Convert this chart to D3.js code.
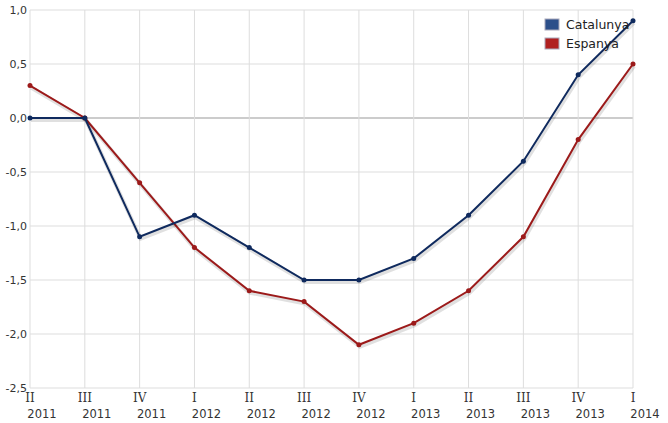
<!DOCTYPE html>
<html><head><meta charset="utf-8">
<script src="https://cdn.jsdelivr.net/npm/d3@7"></script>
<style>body{margin:0;background:#fff}</style>
</head><body><svg id="chart" width="668" height="423"></svg>
<script>
var quarters = ["II", "III", "IV", "I", "II", "III", "IV", "I", "II", "III", "IV", "I"];
var years = ["2011", "2011", "2011", "2012", "2012", "2012", "2012", "2013", "2013", "2013", "2013", "2014"];
var catalunya = [0, 0, -1.1, -0.9, -1.2, -1.5, -1.5, -1.3, -0.9, -0.4, 0.4, 0.9];
var espanya = [0.3, 0, -0.6, -1.2, -1.6, -1.7, -2.1, -1.9, -1.6, -1.1, -0.2, 0.5];
var yTicks = [1, 0.5, 0, -0.5, -1, -1.5, -2, -2.5];

var svg = d3.select("#chart");
var x = d3.scaleLinear().domain([0, 11]).range([30, 633]);
var y = d3.scaleLinear().domain([-2.5, 1]).range([388, 10]);
var fmt = function (d) { return d3.format(".1f")(d).replace(".", ",").replace("−", "-"); };

var g = svg.append("g");
g.selectAll(".hg").data(yTicks).enter().append("line")
    .attr("x1", 30).attr("x2", 633)
    .attr("y1", function (d) { return y(d); }).attr("y2", function (d) { return y(d); })
    .attr("stroke", function (d) { return d === 0 ? "#999" : "#ddd"; });
g.selectAll(".vg").data(d3.range(12)).enter().append("line")
    .attr("x1", function (d) { return x(d); }).attr("x2", function (d) { return x(d); })
    .attr("y1", 10).attr("y2", 388).attr("stroke", "#ddd");

g.selectAll(".yl").data(yTicks).enter().append("text")
    .attr("x", 27).attr("y", function (d) { return y(d) + 4; })
    .attr("text-anchor", "end").style("font", "11px 'DejaVu Sans'").attr("fill", "#333")
    .text(fmt);

g.selectAll(".ql").data(quarters).enter().append("text")
    .attr("x", function (d, i) { return x(i); }).attr("y", 402)
    .attr("text-anchor", "middle").style("font", "12px 'DejaVu Serif'").attr("fill", "#333")
    .text(function (d) { return d; });
g.selectAll(".yrl").data(years).enter().append("text")
    .attr("x", function (d, i) { return x(i) + 12; }).attr("y", 418)
    .attr("text-anchor", "middle").style("font", "11.5px 'DejaVu Sans'").attr("fill", "#333")
    .text(function (d) { return d; });

var line = d3.line().x(function (d, i) { return x(i); }).y(function (d) { return y(d); });
function series(data, color) {
    svg.append("path").datum(data).attr("d", line).attr("fill", "none")
        .attr("stroke", "#000").attr("stroke-opacity", 0.12).attr("stroke-width", 4)
        .attr("transform", "translate(1,2)");
    svg.append("path").datum(data).attr("d", line).attr("fill", "none")
        .attr("stroke", color).attr("stroke-width", 2);
    svg.selectAll(null).data(data).enter().append("circle")
        .attr("cx", function (d, i) { return x(i); }).attr("cy", function (d) { return y(d); })
        .attr("r", 2.5).attr("fill", color);
}
series(espanya, "#9c1a1a");
series(catalunya, "#0f2a5e");

var legend = [["Catalunya", "#2c4f8a"], ["Espanya", "#b02020"]];
var lg = svg.selectAll(".lg").data(legend).enter().append("g")
    .attr("transform", function (d, i) { return "translate(545," + (19 + i * 19) + ")"; });
lg.append("rect").attr("width", 14).attr("height", 11).attr("fill", function (d) { return d[1]; })
    .attr("stroke", "#aab").attr("stroke-width", 1);
lg.append("text").attr("x", 21).attr("y", 10).style("font", "12.5px 'DejaVu Sans'").attr("fill", "#222")
    .text(function (d) { return d[0]; });
</script></body></html>
